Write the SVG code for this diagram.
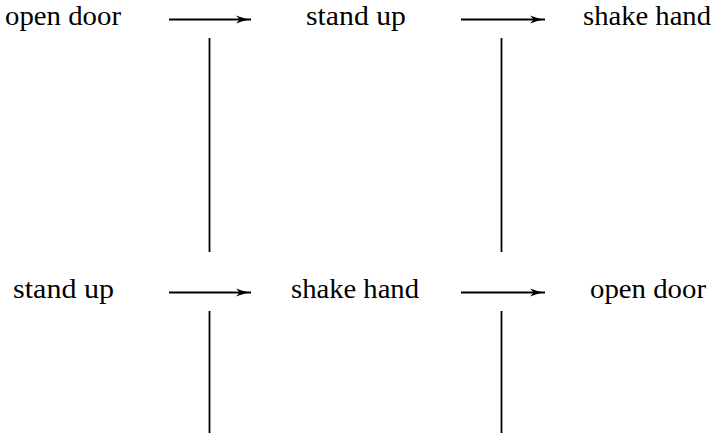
<svg xmlns="http://www.w3.org/2000/svg" width="713" height="433" viewBox="0 0 713 433">
<style>
text{font-family:'Liberation Serif','DejaVu Serif',serif;font-size:27px;fill:#000;text-anchor:middle}
.ln{stroke:#000;stroke-width:1.8;fill:none}
</style>
<defs>
<marker id="ah" markerUnits="userSpaceOnUse" markerWidth="17" markerHeight="13" refX="15" refY="6.5" orient="auto">
<path d="M0,2.5 Q9,6 15,6.5 Q9,7 0,10.5 Q2.5,8 3.5,6.5 Q2.5,5 0,2.5 Z" fill="#000"/>
</marker>
</defs>
<rect width="713" height="433" fill="#fff"/>
<g id="n1"><text x="63" y="25" textLength="116" lengthAdjust="spacingAndGlyphs">open door</text></g>
<g id="n2"><text x="356" y="25" textLength="100" lengthAdjust="spacingAndGlyphs">stand up</text></g>
<g id="n3"><text x="647" y="25" textLength="128" lengthAdjust="spacingAndGlyphs">shake hand</text></g>
<g id="n4"><text x="63.5" y="298" textLength="101" lengthAdjust="spacingAndGlyphs">stand up</text></g>
<g id="n5"><text x="355" y="298" textLength="128" lengthAdjust="spacingAndGlyphs">shake hand</text></g>
<g id="n6"><text x="648" y="298" textLength="116" lengthAdjust="spacingAndGlyphs">open door</text></g>
<g id="connectors">
<line class="ln" x1="169" y1="19.5" x2="251" y2="19.5" marker-end="url(#ah)"/>
<line class="ln" x1="461" y1="19.5" x2="545" y2="19.5" marker-end="url(#ah)"/>
<line class="ln" x1="169" y1="292.5" x2="251" y2="292.5" marker-end="url(#ah)"/>
<line class="ln" x1="461" y1="292.5" x2="545" y2="292.5" marker-end="url(#ah)"/>
<line class="ln" x1="209.5" y1="38" x2="209.5" y2="252"/>
<line class="ln" x1="501.5" y1="38" x2="501.5" y2="252"/>
<line class="ln" x1="209.5" y1="311" x2="209.5" y2="433"/>
<line class="ln" x1="501.5" y1="311" x2="501.5" y2="433"/>
</g>
</svg>
